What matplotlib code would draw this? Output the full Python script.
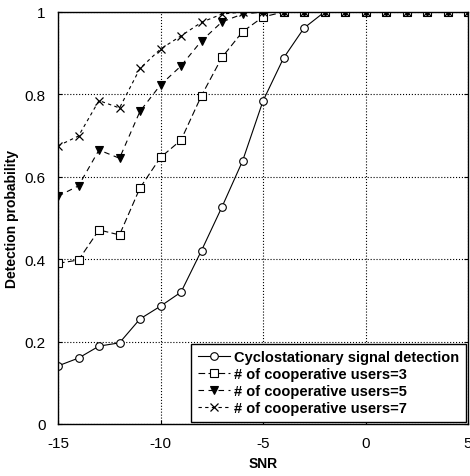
import matplotlib
matplotlib.use("Agg")
import matplotlib.pyplot as plt
import numpy as np

plt.rcParams['font.family'] = ['Liberation Sans', 'DejaVu Sans']
plt.rcParams['axes.unicode_minus'] = False

snr = list(range(-15, 6))
cyclo = [0.141, 0.160, 0.189, 0.197, 0.255, 0.286, 0.320, 0.421, 0.527, 0.638, 0.784, 0.888, 0.961, 1.0, 1.0, 1.0, 1.0, 1.0, 1.0, 1.0, 1.0]
users3 = [0.390, 0.398, 0.471, 0.459, 0.573, 0.647, 0.689, 0.797, 0.890, 0.952, 0.988, 1.0, 1.0, 1.0, 1.0, 1.0, 1.0, 1.0, 1.0, 1.0, 1.0]
users5 = [0.553, 0.578, 0.665, 0.645, 0.759, 0.823, 0.869, 0.930, 0.976, 0.995, 1.0, 1.0, 1.0, 1.0, 1.0, 1.0, 1.0, 1.0, 1.0, 1.0, 1.0]
users7 = [0.675, 0.699, 0.785, 0.767, 0.863, 0.910, 0.942, 0.975, 0.995, 1.0, 1.0, 1.0, 1.0, 1.0, 1.0, 1.0, 1.0, 1.0, 1.0, 1.0, 1.0]
labels = ["Cyclostationary signal detection", "# of cooperative users=3",
          "# of cooperative users=5", "# of cooperative users=7"]
xticks = [-15, -10, -5, 0, 5]
yticks = [0, 0.2, 0.4, 0.6, 0.8, 1]
ytick_labels = ["0", "0.2", "0.4", "0.6", "0.8", "1"]

fig = plt.figure(figsize=(4.7, 4.77), dpi=100)
ax = fig.add_axes([58/470, 52/477, 410/470, 412/477])

ms = 5.5
ax.plot(snr, cyclo, color='black', lw=0.8, ls='-', marker='o', ms=ms,
        mfc='white', mec='black', mew=0.8, label=labels[0])
ax.plot(snr, users3, color='black', lw=0.8, ls=(0, (6, 3)), marker='s', ms=ms,
        mfc='white', mec='black', mew=0.8, label=labels[1])
ax.plot(snr, users5, color='black', lw=0.8, ls=(0, (5, 4)), marker='v', ms=ms,
        mfc='black', mec='black', mew=0.8, label=labels[2])
ax.plot(snr, users7, color='black', lw=0.8, ls=(0, (3, 3)), marker='x', ms=ms,
        mec='black', mew=0.9, label=labels[3])

ax.set_xlim(-15, 5)
ax.set_ylim(0, 1)
ax.set_xticks(xticks)
ax.set_yticks(yticks)
ax.set_yticklabels(ytick_labels)
ax.tick_params(direction='in', length=3, labelsize=11, pad=9, right=True, top=False)
ax.grid(True, color='black', ls=':', lw=0.8)
for s in ax.spines.values():
    s.set_linewidth(1.0)

ax.set_xlabel("SNR", fontweight='bold', fontsize=10)
ax.set_ylabel("Detection probability", fontweight='bold', fontsize=10)

leg = ax.legend(loc='lower right', prop={'weight': 'bold', 'size': 10.5},
                frameon=True, fancybox=False, edgecolor='black', framealpha=1,
                borderaxespad=0.15, handlelength=2.2, handletextpad=0.3,
                labelspacing=0.2, borderpad=0.45)
leg.get_frame().set_linewidth(1.0)

fig.savefig("out.png", dpi=100)
